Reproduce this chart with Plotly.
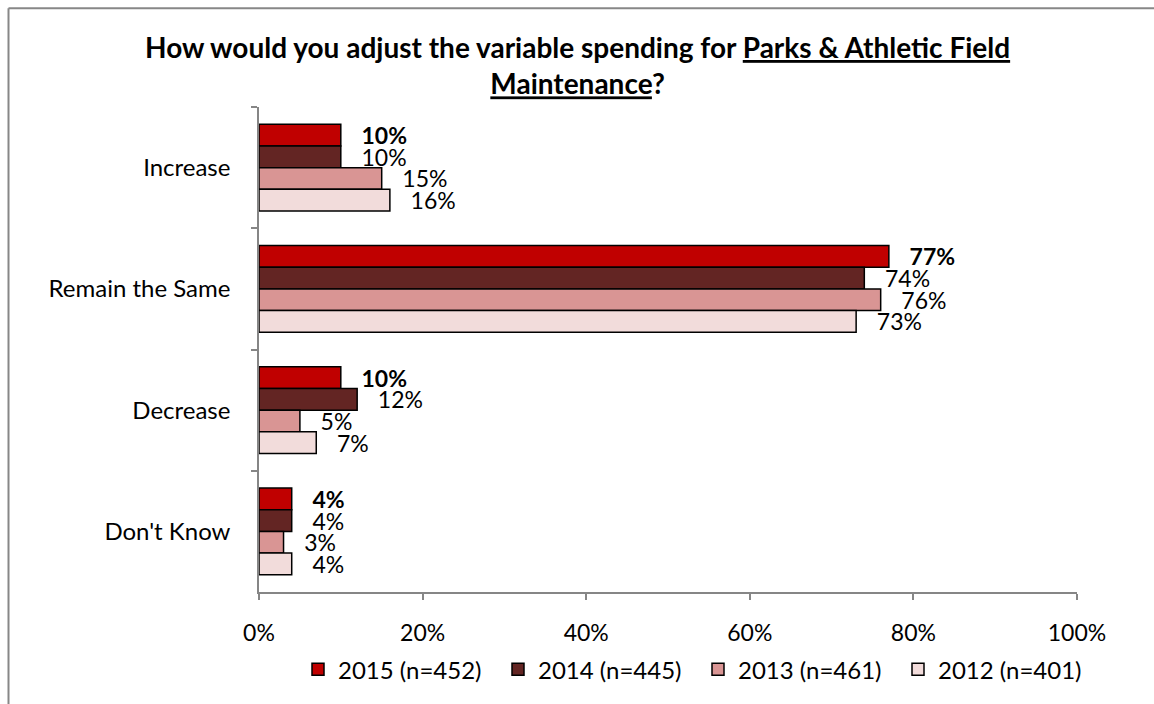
import plotly.graph_objects as go

categories = ["Increase", "Remain the Same", "Decrease", "Don't Know"]
series_names = ["2015 (n=452)", "2014 (n=445)", "2013 (n=461)", "2012 (n=401)"]
values_2015 = [10, 77, 10, 4]
values_2014 = [10, 74, 12, 4]
values_2013 = [15, 76, 5, 3]
values_2012 = [16, 73, 7, 4]
x_ticks = [0, 20, 40, 60, 80, 100]
x_tick_labels = ["0%", "20%", "40%", "60%", "80%", "100%"]

colors = ["#C00000", "#632523", "#D99594", "#F2DCDB"]
all_values = [values_2015, values_2014, values_2013, values_2012]
FONT = "Lato"
FS = 23

fig = go.Figure()
for i, (name, vals, col) in enumerate(zip(series_names, all_values, colors)):
    if i == 0:
        txt = [f"   <b>{v}%</b>" for v in vals]
    else:
        txt = [f"   {v}%" for v in vals]
    fig.add_trace(go.Bar(
        name=name, y=categories, x=vals, orientation="h",
        marker=dict(color=col, line=dict(color="black", width=1.5)),
        text=txt, textposition="outside", cliponaxis=False, constraintext="none",
        textfont=dict(family=FONT, size=FS, color="black"),
        hoverinfo="skip",
    ))

PLOT_L, PLOT_R, PLOT_T, PLOT_B = 259, 1077, 107, 600
PW, PH = PLOT_R - PLOT_L, PLOT_B - PLOT_T

def px_x(x):
    return (x - PLOT_L) / PW

def px_y(y):
    return (PLOT_B - y) / PH

fig.update_layout(
    width=1154, height=704,
    margin=dict(l=PLOT_L, r=1154 - PLOT_R, t=PLOT_T, b=704 - PLOT_B),
    paper_bgcolor="white", plot_bgcolor="white",
    barmode="group", bargap=0.285, bargroupgap=0,
    font=dict(family=FONT, size=FS, color="black"),
    xaxis=dict(
        range=[0, 100], tickvals=x_ticks, ticktext=x_tick_labels,
        showgrid=False, zeroline=False, showline=True, linecolor="#868686", linewidth=1.5,
        ticks="outside", ticklen=6, tickcolor="#868686", tickwidth=1.5,
        ticklabelstandoff=14, tickfont=dict(size=FS),
    ),
    yaxis=dict(
        autorange="reversed", showgrid=False, zeroline=False,
        showline=True, linecolor="#868686", linewidth=1.5,
        ticks="outside", ticklen=6, tickcolor="#868686", tickwidth=1.5,
        tickson="boundaries", ticklabelstandoff=22, tickfont=dict(size=24),
    ),
    legend=dict(
        orientation="h", x=px_x(298), xanchor="left", y=px_y(679), yanchor="middle",
        font=dict(family=FONT, size=24), traceorder="normal",
        itemwidth=30, entrywidth=155, entrywidthmode="pixels",
    ),
    showlegend=True,
    annotations=[dict(
        text="<b>How would you adjust the variable spending for <u>Parks & Athletic Field</u></b><br><b><u>Maintenance</u>?</b>",
        xref="paper", yref="paper", x=px_x(577), y=px_y(64),
        xanchor="center", yanchor="middle", showarrow=False, align="center",
        font=dict(family=FONT, size=28, color="black"),
    )],
    shapes=[
        dict(type="line", xref="paper", yref="paper",
             x0=px_x(8.5), x1=1.2, y0=px_y(6.5), y1=px_y(6.5),
             line=dict(color="#878787", width=2)),
        dict(type="line", xref="paper", yref="paper",
             x0=px_x(8.5), x1=px_x(8.5), y0=px_y(6.5), y1=px_y(720),
             line=dict(color="#878787", width=2)),
    ],
)

fig.write_html("out.html")
